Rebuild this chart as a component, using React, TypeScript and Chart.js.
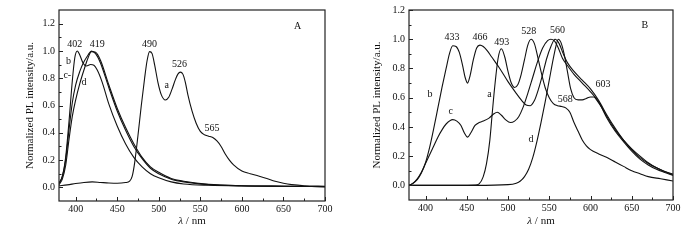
import React, { useEffect, useRef } from "react";
import { Chart, registerables } from "chart.js";

Chart.register(...registerables);

const FONT = '"Liberation Serif", "Times New Roman", serif';

// ---------- Panel A data ----------
const wlA_a = [380, 390, 400, 410, 420, 430, 440, 450, 460, 465, 468, 471, 475, 479, 483, 486, 489, 492, 495, 499, 503, 508, 512, 516, 520, 523, 526, 529, 532, 535, 540, 545, 550, 555, 560, 565, 570, 575, 580, 585, 590, 600, 610, 620, 630, 640, 650, 660, 675, 700];
const valA_a = [0.012, 0.018, 0.028, 0.036, 0.04, 0.036, 0.032, 0.03, 0.035, 0.045, 0.08, 0.18, 0.38, 0.6, 0.8, 0.93, 0.995, 0.98, 0.9, 0.77, 0.68, 0.64, 0.66, 0.72, 0.79, 0.83, 0.845, 0.83, 0.77, 0.68, 0.56, 0.47, 0.41, 0.385, 0.375, 0.365, 0.34, 0.3, 0.245, 0.2, 0.165, 0.12, 0.1, 0.083, 0.065, 0.045, 0.03, 0.02, 0.012, 0.008];

const wlA_b = [380, 384, 388, 392, 396, 399, 402, 405, 409, 413, 418, 422, 426, 432, 440, 450, 460, 470, 480, 490, 500, 515, 530, 560, 600, 650, 700];
const valA_b = [0.03, 0.08, 0.22, 0.48, 0.78, 0.95, 1.0, 0.97, 0.91, 0.89, 0.9, 0.895, 0.86, 0.77, 0.61, 0.45, 0.32, 0.22, 0.15, 0.1, 0.07, 0.04, 0.025, 0.015, 0.01, 0.008, 0.005];

const wlA_c = [380, 384, 388, 392, 396, 400, 405, 410, 415, 419, 424, 430, 440, 450, 460, 470, 480, 490, 500, 515, 530, 560, 600, 650, 700];
const valA_c = [0.03, 0.08, 0.2, 0.42, 0.62, 0.75, 0.85, 0.92, 0.97, 1.0, 0.98, 0.91, 0.73, 0.56, 0.42, 0.3, 0.21, 0.14, 0.1, 0.06, 0.04, 0.02, 0.012, 0.008, 0.005];

const wlA_d = [380, 384, 388, 392, 396, 400, 405, 410, 415, 419, 424, 430, 440, 450, 460, 470, 480, 490, 500, 515, 530, 560, 600, 650, 700];
const valA_d = [0.02, 0.06, 0.16, 0.35, 0.52, 0.64, 0.76, 0.86, 0.95, 0.995, 0.99, 0.93, 0.75, 0.58, 0.44, 0.32, 0.22, 0.15, 0.11, 0.065, 0.045, 0.022, 0.012, 0.008, 0.005];

const notesA_text = ["402", "419", "490", "526", "565", "a", "b", "c-", "d", "A"];
const notesA_x = [399, 426, 489, 525, 564, 509.5, 391.5, 390, 410, 667];
const notesA_y = [1.05, 1.05, 1.05, 0.905, 0.43, 0.745, 0.925, 0.82, 0.77, 1.18];

// ---------- Panel B data ----------
const wlB_a = [380, 420, 460, 465, 470, 474, 478, 481, 484, 488, 492, 496, 500, 504, 508, 512, 516, 520, 524, 528, 532, 536, 540, 545, 550, 555, 560, 565, 570, 575, 580, 585, 590, 595, 600, 610, 620, 630, 640, 650, 660, 670, 685, 700];
const valB_a = [0.0, 0.0, 0.002, 0.01, 0.06, 0.15, 0.31, 0.5, 0.68, 0.87, 0.935, 0.88, 0.78, 0.7, 0.67, 0.69, 0.76, 0.86, 0.96, 1.0, 0.97, 0.88, 0.78, 0.67, 0.6, 0.56, 0.545, 0.54, 0.53, 0.5, 0.43, 0.37, 0.31, 0.27, 0.245, 0.215, 0.19, 0.16, 0.13, 0.1, 0.08, 0.06, 0.045, 0.03];

const wlB_b = [380, 385, 390, 395, 400, 405, 410, 415, 420, 425, 429, 433, 437, 441, 445, 448, 451, 454, 458, 462, 466, 470, 475, 480, 490, 500, 510, 516, 522, 527, 532, 537, 542, 547, 552, 557, 562, 567, 572, 580, 590, 600, 610, 620, 630, 640, 650, 660, 670, 680, 690, 700];
const valB_b = [0.0, 0.015, 0.04, 0.085, 0.155, 0.26, 0.39, 0.53, 0.67, 0.8, 0.9, 0.955, 0.95, 0.91, 0.82, 0.74, 0.7, 0.75, 0.86, 0.94, 0.96, 0.95, 0.92, 0.88, 0.8, 0.71, 0.63, 0.585, 0.55, 0.545, 0.58, 0.66, 0.76, 0.87, 0.95, 1.0, 0.97, 0.9, 0.84, 0.78, 0.72, 0.66, 0.58, 0.48, 0.39, 0.31, 0.245, 0.19, 0.15, 0.12, 0.095, 0.078];

const wlB_c = [380, 385, 390, 395, 400, 405, 410, 415, 420, 425, 433, 438, 443, 447, 451, 455, 460, 465, 470, 477, 483, 487, 492, 497, 503, 508, 513, 518, 524, 530, 536, 542, 548, 552, 556, 561, 566, 572, 580, 590, 600, 610, 620, 630, 640, 650, 660, 670, 680, 690, 700];
const valB_c = [0.0, 0.015, 0.045, 0.09, 0.15, 0.21, 0.27, 0.33, 0.38, 0.42, 0.45, 0.44, 0.41, 0.36, 0.33, 0.36, 0.41, 0.43, 0.44, 0.46, 0.49, 0.5, 0.48, 0.45, 0.43, 0.44, 0.47, 0.53, 0.63, 0.74, 0.85, 0.94, 0.99, 1.0, 0.99, 0.94, 0.87, 0.82, 0.76, 0.7, 0.64, 0.57, 0.46, 0.37, 0.3, 0.235, 0.18, 0.14, 0.11, 0.088, 0.068];

const wlB_d = [380, 460, 500, 510, 515, 520, 525, 530, 535, 540, 545, 550, 555, 558, 561, 564, 568, 572, 576, 580, 585, 590, 595, 600, 604, 608, 615, 620, 630, 640, 650, 660, 670, 680, 690, 700];
const valB_d = [0.0, 0.0, 0.005, 0.015, 0.03, 0.06, 0.11, 0.19, 0.3, 0.43, 0.57, 0.72, 0.87, 0.95, 1.0, 0.98, 0.9, 0.78, 0.66, 0.6, 0.585, 0.585, 0.595, 0.605, 0.605, 0.58, 0.52, 0.47, 0.38, 0.31, 0.25, 0.2, 0.155, 0.12, 0.095, 0.072];

const notesB_text = ["433", "466", "493", "528", "560", "603", "568", "b", "a", "c", "d", "B"];
const notesB_x = [432, 466, 492.5, 525, 560, 615, 569.5, 405.5, 477.5, 430.5, 528, 666];
const notesB_y = [1.014, 1.014, 0.977, 1.052, 1.063, 0.693, 0.586, 0.62, 0.62, 0.506, 0.314, 1.097];

// ---------- Axis ticks ----------
const xMajor = [400, 450, 500, 550, 600, 650, 700];
const xMinor = [425, 475, 525, 575, 625, 675];
const yMajor = [0, 0.2, 0.4, 0.6, 0.8, 1.0, 1.2];
const yMinor = [0.1, 0.3, 0.5, 0.7, 0.9, 1.1];

type PanelProps = {
  series: [number[], number[]][];
  notesText: string[];
  notesX: number[];
  notesY: number[];
  yMax: number;
  left: number;
  width: number;
  yAxisWidth: number;
  xAxisHeight: number;
  padRight: number;
  titlePad: number;
  tickPad: number;
  titleSize: number;
  tickSize: number;
};

function Panel(p: PanelProps) {
  const ref = useRef<HTMLCanvasElement | null>(null);
  useEffect(() => {
    if (!ref.current) return;
    const decor = {
      id: "decor",
      afterDraw(chart: any) {
        const { ctx, chartArea: ca } = chart;
        const xs = chart.scales.x;
        const ys = chart.scales.y;
        ctx.save();
        ctx.strokeStyle = "#222";
        ctx.lineWidth = 1.2;
        ctx.strokeRect(ca.left, ca.top, ca.right - ca.left, ca.bottom - ca.top);
        ctx.lineWidth = 1;
        ctx.beginPath();
        xMajor.forEach((v) => {
          const px = Math.round(xs.getPixelForValue(v)) + 0.5;
          ctx.moveTo(px, ca.bottom);
          ctx.lineTo(px, ca.bottom - 4);
        });
        xMinor.forEach((v) => {
          const px = Math.round(xs.getPixelForValue(v)) + 0.5;
          ctx.moveTo(px, ca.bottom);
          ctx.lineTo(px, ca.bottom - 2.5);
        });
        yMajor.forEach((v) => {
          const py = Math.round(ys.getPixelForValue(v)) + 0.5;
          ctx.moveTo(ca.left, py);
          ctx.lineTo(ca.left + 4, py);
        });
        yMinor.forEach((v) => {
          const py = Math.round(ys.getPixelForValue(v)) + 0.5;
          ctx.moveTo(ca.left, py);
          ctx.lineTo(ca.left + 2.5, py);
        });
        ctx.stroke();
        // annotations
        ctx.fillStyle = "#111";
        ctx.textAlign = "center";
        ctx.textBaseline = "middle";
        ctx.font = `${p.tickSize}px ${FONT}`;
        p.notesText.forEach((t, i) => {
          ctx.fillText(t, xs.getPixelForValue(p.notesX[i]), ys.getPixelForValue(p.notesY[i]));
        });
        // x title with italic lambda
        const cx = (ca.left + ca.right) / 2;
        const ty = chart.height - 19;
        ctx.font = `italic ${p.titleSize}px ${FONT}`;
        const w1 = ctx.measureText("λ").width;
        ctx.font = `${p.titleSize}px ${FONT}`;
        const w2 = ctx.measureText(" / nm").width;
        const start = cx - (w1 + w2) / 2;
        ctx.textAlign = "left";
        ctx.font = `italic ${p.titleSize}px ${FONT}`;
        ctx.fillText("λ", start, ty);
        ctx.font = `${p.titleSize}px ${FONT}`;
        ctx.fillText(" / nm", start + w1, ty);
        ctx.restore();
      },
    };
    const chart = new Chart(ref.current, {
      type: "line",
      data: {
        datasets: p.series.map(([wl, val]) => ({
          data: wl.map((x, i) => ({ x, y: val[i] })),
          borderColor: "#111",
          borderWidth: 1.1,
          pointRadius: 0,
          fill: false,
          cubicInterpolationMode: "monotone" as const,
        })),
      },
      options: {
        animation: false,
        responsive: false,
        devicePixelRatio: 1,
        layout: { padding: { left: 0, right: p.padRight, top: 9, bottom: 0 } },
        plugins: { legend: { display: false }, tooltip: { enabled: false } },
        scales: {
          x: {
            type: "linear",
            min: 380,
            max: 700,
            grid: { display: false, drawTicks: false },
            border: { display: false },
            afterBuildTicks: (s: any) => {
              s.ticks = xMajor.map((v) => ({ value: v }));
            },
            afterFit: (s: any) => {
              s.height = p.xAxisHeight;
            },
            ticks: {
              color: "#111",
              padding: p.tickPad,
              maxRotation: 0,
              autoSkip: false,
              font: { family: FONT, size: p.tickSize },
              callback: (v: any) => String(v),
            },
          },
          y: {
            type: "linear",
            min: -0.1,
            max: p.yMax,
            grid: { display: false, drawTicks: false },
            border: { display: false },
            afterBuildTicks: (s: any) => {
              s.ticks = yMajor.map((v) => ({ value: v }));
            },
            afterFit: (s: any) => {
              s.width = p.yAxisWidth;
            },
            ticks: {
              color: "#111",
              padding: 4,
              autoSkip: false,
              font: { family: FONT, size: p.tickSize },
              callback: (v: any) => Number(v).toFixed(1),
            },
            title: {
              display: true,
              text: "Normalized PL intensity/a.u.",
              color: "#111",
              padding: { top: p.titlePad, bottom: 0 },
              font: { family: FONT, size: p.titleSize },
            },
          },
        },
      },
      plugins: [decor],
    } as any);
    return () => chart.destroy();
  }, []);
  return (
    <canvas
      ref={ref}
      width={p.width}
      height={240}
      style={{ position: "absolute", left: p.left, top: 0, width: p.width, height: 240 }}
    />
  );
}

export default function App() {
  return (
    <div style={{ position: "fixed", left: 0, top: 0, width: 700, height: 240, background: "#fff" }}>
      <Panel
        series={[[wlA_a, valA_a], [wlA_b, valA_b], [wlA_c, valA_c], [wlA_d, valA_d]]}
        notesText={notesA_text}
        notesX={notesA_x}
        notesY={notesA_y}
        yMax={1.3}
        left={0}
        width={345}
        yAxisWidth={59}
        xAxisHeight={39}
        padRight={20}
        titlePad={24}
        tickPad={2}
        titleSize={11}
        tickSize={10}
      />
      <Panel
        series={[[wlB_a, valB_a], [wlB_b, valB_b], [wlB_c, valB_c], [wlB_d, valB_d]]}
        notesText={notesB_text}
        notesX={notesB_x}
        notesY={notesB_y}
        yMax={1.2}
        left={345}
        width={355}
        yAxisWidth={64}
        xAxisHeight={40}
        padRight={27}
        titlePad={26}
        tickPad={2}
        titleSize={11}
        tickSize={10}
      />
    </div>
  );
}
